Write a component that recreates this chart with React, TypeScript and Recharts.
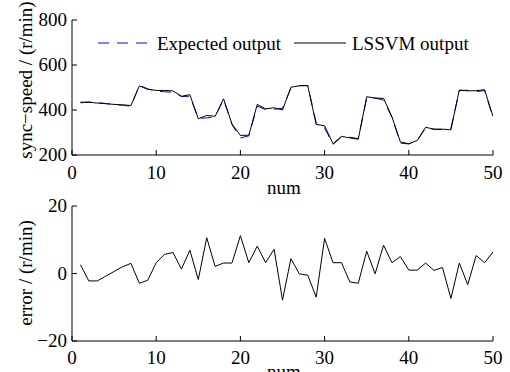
import { LineChart, Line, XAxis, YAxis, Legend } from 'recharts';

const nums = Array.from({ length: 50 }, (_, i) => i + 1);

const lssvmOutput = [
  435, 434, 431, 428, 425, 423, 420, 507, 492, 487,
  487, 485, 461, 468, 361, 376, 372, 450, 338, 287,
  288, 425, 405, 410, 400, 501, 508, 508, 336, 330,
  250, 283, 276, 270, 459, 453, 452, 370, 258, 250,
  265, 323, 315, 315, 312, 489, 485, 486, 490, 372,
];

const expectedOutput = [
  432, 436, 433, 429, 424, 421, 417, 510, 494, 484,
  481, 479, 460, 461, 363, 365, 370, 447, 335, 276,
  285, 417, 402, 403, 408, 497, 508, 509, 343, 320,
  247, 280, 279, 273, 452, 453, 444, 367, 253, 249,
  264, 320, 314, 313, 319, 486, 488, 481, 487, 366,
];

const errors = [
  2.6, -2.2, -2.2, -0.8, 0.6, 2.0, 3.0, -2.9, -2.0, 3.2,
  5.7, 6.2, 1.3, 6.9, -1.8, 10.6, 2.1, 3.1, 3.1, 11.2,
  3.2, 8.1, 3.2, 7.2, -7.9, 4.4, -0.1, -0.5, -7.0, 10.4,
  3.2, 3.2, -2.5, -2.9, 6.6, -0.1, 8.4, 3.2, 5.0, 1.0,
  1.0, 3.1, 0.9, 1.8, -7.4, 3.1, -3.3, 5.3, 3.2, 6.4,
];

const xTicks = [0, 10, 20, 30, 40, 50];
const speedTicks = [200, 400, 600, 800];
const errorTicks = [-20, 0, 20];

const FONT = 'Liberation Serif, serif';
const textStyle = { fontFamily: FONT, fontSize: 19, fill: '#000' };
const minus = (v: number) => (v < 0 ? `\u2212${Math.abs(v)}` : `${v}`);

const speedData = nums.map((n, i) => ({ num: n, expected: expectedOutput[i], lssvm: lssvmOutput[i] }));
const errorData = nums.map((n, i) => ({ num: n, error: errors[i] }));

function XTick({ x, y, payload }: any) {
  return (
    <text x={x} y={y} dy={13} textAnchor="middle" style={textStyle}>
      {minus(payload.value)}
    </text>
  );
}

function YTick({ x, y, payload }: any) {
  return (
    <text x={x} y={y} dy={6} textAnchor="end" style={textStyle}>
      {minus(payload.value)}
    </text>
  );
}

const yLabel = (text: string, cy: number) => () => (
  <text x={32} y={cy} transform={`rotate(-90, 32, ${cy})`} textAnchor="middle" style={textStyle}>
    {text}
  </text>
);

const xLabel = (cy: number) => () => (
  <text x={284} y={cy} textAnchor="middle" style={textStyle}>
    num
  </text>
);

function SpeedLegend() {
  return (
    <svg width={400} height={28}>
      <line x1={8} y1={13} x2={61} y2={13} stroke="#0000ff" strokeDasharray="11 8" />
      <text x={67} y={20} style={textStyle}>Expected output</text>
      <line x1={204} y1={13} x2={256} y2={13} stroke="#000" />
      <text x={262} y={20} style={textStyle}>LSSVM output</text>
    </svg>
  );
}

// matlab style box: inward ticks on all four sides
function boxAxes(yTicks: number[], yDomain: [number, number]) {
  return [
    <XAxis key="xt" xAxisId="top" orientation="top" type="number" dataKey="num" domain={[0, 50]}
      ticks={xTicks} interval={0} height={0} tick={false} tickSize={-5}
      stroke="#000" allowDataOverflow />,
    <YAxis key="yr" yAxisId="right" orientation="right" type="number" domain={yDomain}
      ticks={yTicks} interval={0} width={0} tick={false} tickSize={-5}
      stroke="#000" allowDataOverflow />,
  ];
}

export default function App() {
  return (
    <div style={{ position: 'absolute', left: 0, top: 0, width: 510, height: 372, background: '#fff', overflow: 'hidden', fontFamily: FONT }}>
      <div style={{ position: 'absolute', left: 0, top: 190 }}>
        <LineChart width={510} height={200} data={errorData} margin={{ top: 16, right: 17, bottom: 19, left: 22 }}>
          <XAxis type="number" dataKey="num" domain={[0, 50]} ticks={xTicks} interval={0} height={30}
            tickSize={-5} tickMargin={15} tick={<XTick />} stroke="#000" allowDataOverflow
            label={{ content: xLabel(188) }} />
          <YAxis type="number" domain={[-20, 20]} ticks={errorTicks} interval={0} width={50}
            tickSize={-5} tickMargin={10} tick={<YTick />} stroke="#000" allowDataOverflow
            label={{ content: yLabel('error / (r/min)', 83) }} />
          {boxAxes(errorTicks, [-20, 20])}
          <Line dataKey="error" stroke="#000" strokeWidth={1} dot={false} type="linear" isAnimationActive={false} />
        </LineChart>
      </div>
      <div style={{ position: 'absolute', left: 0, top: 0 }}>
        <LineChart width={510} height={205} data={speedData} margin={{ top: 20, right: 17, bottom: 20, left: 22 }}>
          <XAxis type="number" dataKey="num" domain={[0, 50]} ticks={xTicks} interval={0} height={30}
            tickSize={-5} tickMargin={16} tick={<XTick />} stroke="#000" allowDataOverflow
            label={{ content: xLabel(194) }} />
          <YAxis type="number" domain={[200, 800]} ticks={speedTicks} interval={0} width={50}
            tickSize={-5} tickMargin={10} tick={<YTick />} stroke="#000" allowDataOverflow
            label={{ content: yLabel('sync\u2212speed / (r/min)', 80) }} />
          {boxAxes(speedTicks, [200, 800])}
          <Legend verticalAlign="middle" align="center" layout="horizontal" content={SpeedLegend}
            wrapperStyle={{ left: 90, top: 30, width: 400, height: 28 }} />
          <Line dataKey="expected" stroke="#0000ff" strokeWidth={1} strokeDasharray="11 8" dot={false}
            type="linear" isAnimationActive={false} />
          <Line dataKey="lssvm" stroke="#000" strokeWidth={1} dot={false} type="linear" isAnimationActive={false} />
        </LineChart>
      </div>
    </div>
  );
}
